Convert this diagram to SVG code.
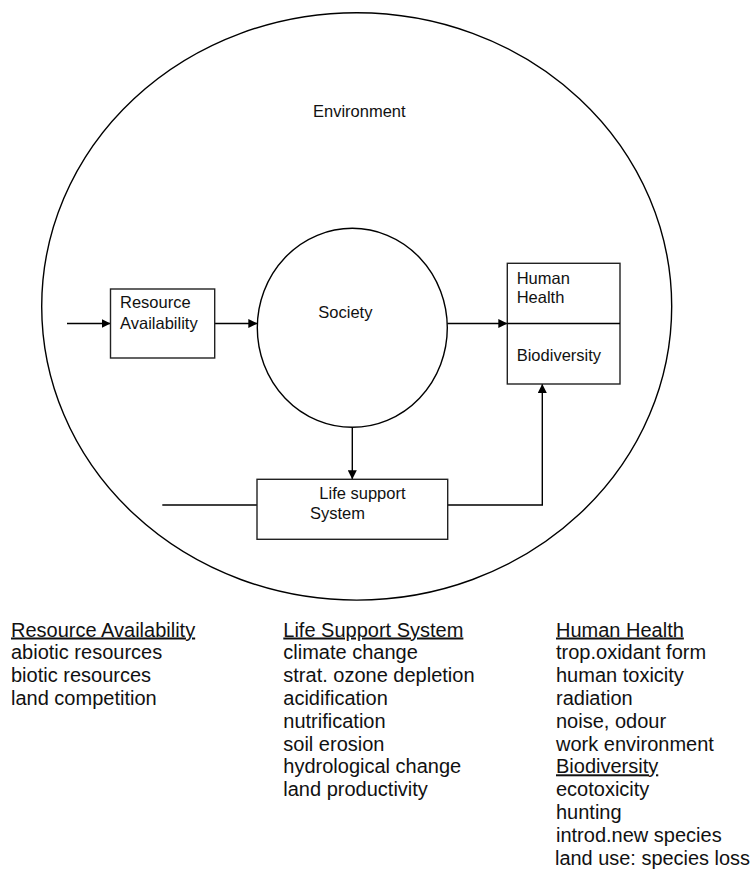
<svg xmlns="http://www.w3.org/2000/svg" width="752" height="869" viewBox="0 0 752 869">
<defs>
<marker id="arr" markerWidth="9" markerHeight="9" refX="9" refY="4.5" orient="auto" markerUnits="userSpaceOnUse">
<path d="M0,0 L9,4.5 L0,9 Z" fill="#000"/>
</marker>
<style>
.shape{fill:none;stroke:#000;stroke-width:1.4}
.box{fill:#fff;stroke:#222;stroke-width:1.4}
.lbl{font-family:"Liberation Sans",Arial,sans-serif;font-size:16.5px;fill:#111}
.list{font-family:"Liberation Sans",Arial,sans-serif;font-size:20px;fill:#111}
.ul{text-decoration:underline}
.conn{fill:none;stroke:#000;stroke-width:1.4}
</style>
</defs>
<rect width="752" height="869" fill="#fff"/>
<g id="environment">
<ellipse class="shape" cx="356.7" cy="306.4" rx="315" ry="293.7"/>
<text class="lbl" x="313" y="117">Environment</text>
</g>
<g id="connectors">
<line class="conn" x1="67" y1="323.5" x2="110.5" y2="323.5" marker-end="url(#arr)"/>
<line class="conn" x1="214.7" y1="323.5" x2="257.3" y2="323.5" marker-end="url(#arr)"/>
<line class="conn" x1="447.3" y1="323.5" x2="507.3" y2="323.5" marker-end="url(#arr)"/>
<line class="conn" x1="352.3" y1="427.3" x2="352.3" y2="479.3" marker-end="url(#arr)"/>
<line class="conn" x1="162.3" y1="505" x2="257" y2="505"/>
<polyline class="conn" points="447.7,505 542.3,505 542.3,384" marker-end="url(#arr)"/>
</g>
<g id="society">
<ellipse class="shape" cx="352.3" cy="327.8" rx="95" ry="99.5"/>
<text class="lbl" x="318.3" y="318.3">Society</text>
</g>
<g id="resource-availability">
<rect class="box" x="110.5" y="289" width="104.2" height="69"/>
<text class="lbl" x="120" y="308.3">Resource</text>
<text class="lbl" x="120" y="329.3">Availability</text>
</g>
<g id="human-health-biodiversity">
<rect class="box" x="507.3" y="263.3" width="112.7" height="120.7"/>
<line class="shape" x1="507.3" y1="323.5" x2="620" y2="323.5"/>
<text class="lbl" x="516.7" y="284">Human</text>
<text class="lbl" x="516.7" y="302.7">Health</text>
<text class="lbl" x="516.7" y="361">Biodiversity</text>
</g>
<g id="life-support-system">
<rect class="box" x="257" y="479.3" width="190.7" height="60"/>
<text class="lbl" x="319.3" y="499">Life support</text>
<text class="lbl" x="310" y="519">System</text>
</g>
<g id="list-resource">
<text class="list ul" x="11" y="636.5">Resource Availability</text>
<text class="list" x="11" y="659.3">abiotic resources</text>
<text class="list" x="11" y="682.1">biotic resources</text>
<text class="list" x="11" y="704.9">land competition</text>
</g>
<g id="list-lifesupport">
<text class="list ul" x="283.3" y="636.5">Life Support System</text>
<text class="list" x="283.3" y="659.3">climate change</text>
<text class="list" x="283.3" y="682.1">strat. ozone depletion</text>
<text class="list" x="283.3" y="704.9">acidification</text>
<text class="list" x="283.3" y="727.7">nutrification</text>
<text class="list" x="283.3" y="750.5">soil erosion</text>
<text class="list" x="283.3" y="773.3">hydrological change</text>
<text class="list" x="283.3" y="796.1">land productivity</text>
</g>
<g id="list-health">
<text class="list ul" x="556" y="636.5">Human Health</text>
<text class="list" x="556" y="659.3">trop.oxidant form</text>
<text class="list" x="556" y="682.1">human toxicity</text>
<text class="list" x="556" y="704.9">radiation</text>
<text class="list" x="556" y="727.7">noise, odour</text>
<text class="list" x="556" y="750.5">work environment</text>
<text class="list ul" x="556" y="773.3">Biodiversity</text>
<text class="list" x="556" y="796.1">ecotoxicity</text>
<text class="list" x="556" y="818.9">hunting</text>
<text class="list" x="556" y="841.7">introd.new species</text>
<text class="list" x="555" y="864.5" textLength="195" lengthAdjust="spacingAndGlyphs">land use: species loss</text>
</g>
</svg>
